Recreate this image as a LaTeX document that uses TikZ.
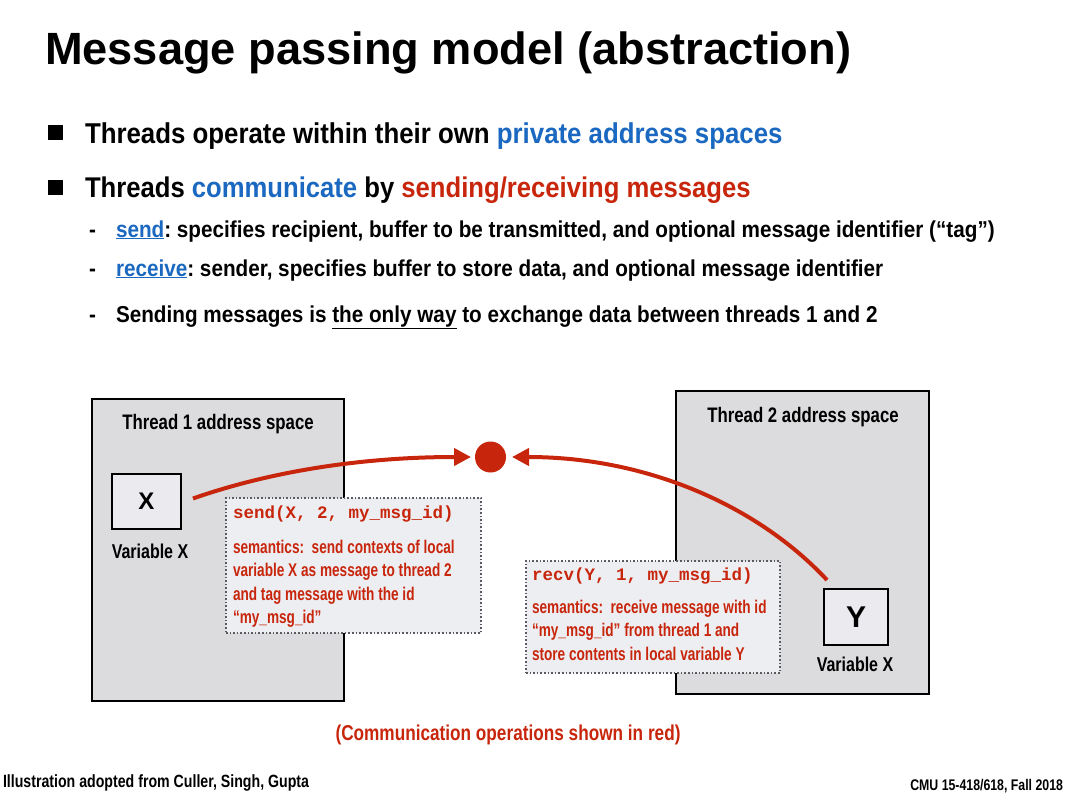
\documentclass[tikz,border=0pt]{standalone}
\usepackage{fontspec}
\setmainfont{Liberation Sans}[FakeStretch=0.9]
\setmonofont{Liberation Mono}
\newfontfamily\titlefont{Liberation Sans}
\newfontfamily\varfont{Liberation Sans}
\newfontfamily\narrowfont{Liberation Sans}[FakeStretch=0.8]
\newfontfamily\notefont{Liberation Sans}[FakeStretch=0.74]
\usetikzlibrary{positioning,arrows.meta}

\definecolor{msgred}{HTML}{C8260C}
\definecolor{msgblue}{HTML}{1A68C0}
\definecolor{spacegray}{HTML}{DCDCDE}
\definecolor{varfill}{HTML}{EBEBEF}
\definecolor{notefill}{HTML}{EDEEF2}
\definecolor{notegray}{HTML}{5A5A60}

\newcommand{\fsz}[2]{\fontsize{#1}{#2}\selectfont}
\frenchspacing

\tikzset{
  every node/.style={inner sep=0pt, outer sep=0pt},
  txt/.style={anchor=base west},
  addrspace/.style={draw=black, line width=2pt, fill=spacegray, anchor=north west},
  varbox/.style={draw=black, line width=2pt, fill=varfill, font=\varfont\bfseries},
  note/.style={draw=notegray, line width=1.6pt, dotted, fill=notefill, anchor=north west},
  msg/.style={draw=msgred, line width=4pt, -{Triangle[length=17pt,width=17pt]}},
}

\begin{document}
\begin{tikzpicture}[x=1pt, y=-1pt]
  \useasboundingbox (0,0) rectangle (1067,808);

  % Title
  \node[txt, font=\titlefont\bfseries\fsz{45.2}{50}] (title) at (45,64) {Message passing model (abstraction)};

  % Bullets
  \node[fill=black, minimum size=15pt] (sq1) at (55.5,132) {};
  \node[txt, font=\bfseries\fsz{28.7}{32}] (line1) at (85,143)
    {Threads operate within their own \textcolor{msgblue}{private address spaces}};
  \node[fill=black, minimum size=15pt] (sq2) at (55.5,187) {};
  \node[txt, font=\bfseries\fsz{28.5}{32}] (line2) at (85,197)
    {Threads \textcolor{msgblue}{communicate} by \textcolor{msgred}{sending/receiving messages}};

  % Sub-bullets
  \node[txt, font=\bfseries\fsz{23}{24}] (dash1) at (89,237) {-};
  \node[txt, font=\bfseries\fsz{23}{24}] (sub1) at (116,237)
    {\textcolor{msgblue}{\underline{send}}: specifies recipient, buffer to be transmitted, and optional message identifier (“tag”)};
  \node[txt, font=\bfseries\fsz{23}{24}] (dash2) at (89,276) {-};
  \node[txt, font=\bfseries\fsz{23}{24}] (sub2) at (116,276)
    {\textcolor{msgblue}{\underline{receive}}: sender, specifies buffer to store data, and optional message identifier};
  \node[txt, font=\bfseries\fsz{23}{24}] (dash3) at (89,322) {-};
  \node[txt, font=\bfseries\fsz{23}{24}] (sub3) at (116,322)
    {Sending messages is \underline{the only way} to exchange data between threads 1 and 2};

  % Address spaces
  \node[addrspace, minimum width=252pt, minimum height=302pt] (t1) at (92,399) {};
  \node[anchor=base, font=\narrowfont\bfseries\fsz{21}{24}] (t1name) at (218,429) {Thread 1 address space};
  \node[addrspace, minimum width=253pt, minimum height=303pt] (t2) at (676,391) {};
  \node[anchor=base, font=\narrowfont\bfseries\fsz{21}{24}] (t2name) at (803,422) {Thread 2 address space};

  % Variables
  \node[varbox, minimum width=69pt, minimum height=55pt, font=\varfont\bfseries\fsz{24}{24}] (xvar) at (146.5,501.5) {X};
  \node[anchor=base, font=\narrowfont\bfseries\fsz{20}{22}] (xname) at (150,558) {Variable X};
  \node[varbox, minimum width=64pt, minimum height=56pt, font=\varfont\bfseries\fsz{30}{30}] (yvar) at (856,617) {Y};
  \node[anchor=base, font=\narrowfont\bfseries\fsz{20}{22}] (yname) at (855,671) {Variable X};

  % Notes
  \node[note, minimum width=255pt, minimum height=135pt] (sendnote) at (226,498) {};
  \node[txt, text=msgred, font=\ttfamily\bfseries\fsz{17.5}{20}] (sendcall) at (233,518) {send(X, 2, my\_msg\_id)};
  \node[anchor=north west, align=left, text=msgred, font=\notefont\bfseries\fsz{18.4}{23.5}] (sendsem) at (233,540)
    {semantics:~ send contexts of local\\variable X as message to thread 2\\and tag message with the id\\“my\_msg\_id”};

  \node[note, minimum width=254pt, minimum height=112pt] (recvnote) at (526,561) {};
  \node[txt, text=msgred, font=\ttfamily\bfseries\fsz{17.5}{20}] (recvcall) at (532,580) {recv(Y, 1, my\_msg\_id)};
  \node[anchor=north west, align=left, text=msgred, font=\notefont\bfseries\fsz{18.4}{23.5}] (recvsem) at (532,600)
    {semantics:~ receive message with id\\“my\_msg\_id” from thread 1 and\\store contents in local variable Y};

  % Messages
  \node[circle, fill=msgred, minimum size=31pt] (dot) at (490.5,457) {};
  \draw[msg, shorten >=4pt] ([xshift=12pt,yshift=3pt]xvar.east) .. controls +(80,-28) and +(-110,0) .. (dot.west);
  \draw[msg, shorten >=6pt] ([yshift=9pt,xshift=3pt]yvar.north west) .. controls +(-70,-75) and +(140,0) .. (dot.east);

  % Footer
  \node[anchor=base, text=msgred, font=\narrowfont\bfseries\fsz{21.5}{22}] (caption) at (508,740) {(Communication operations shown in red)};
  \node[txt, font=\narrowfont\bfseries\fsz{17.7}{19}] (credit) at (3,787) {Illustration adopted from Culler, Singh, Gupta};
  \node[anchor=base east, font=\narrowfont\bfseries\fsz{15.4}{17}] (course) at (1063,790) {CMU 15-418/618, Fall 2018};
\end{tikzpicture}
\end{document}
